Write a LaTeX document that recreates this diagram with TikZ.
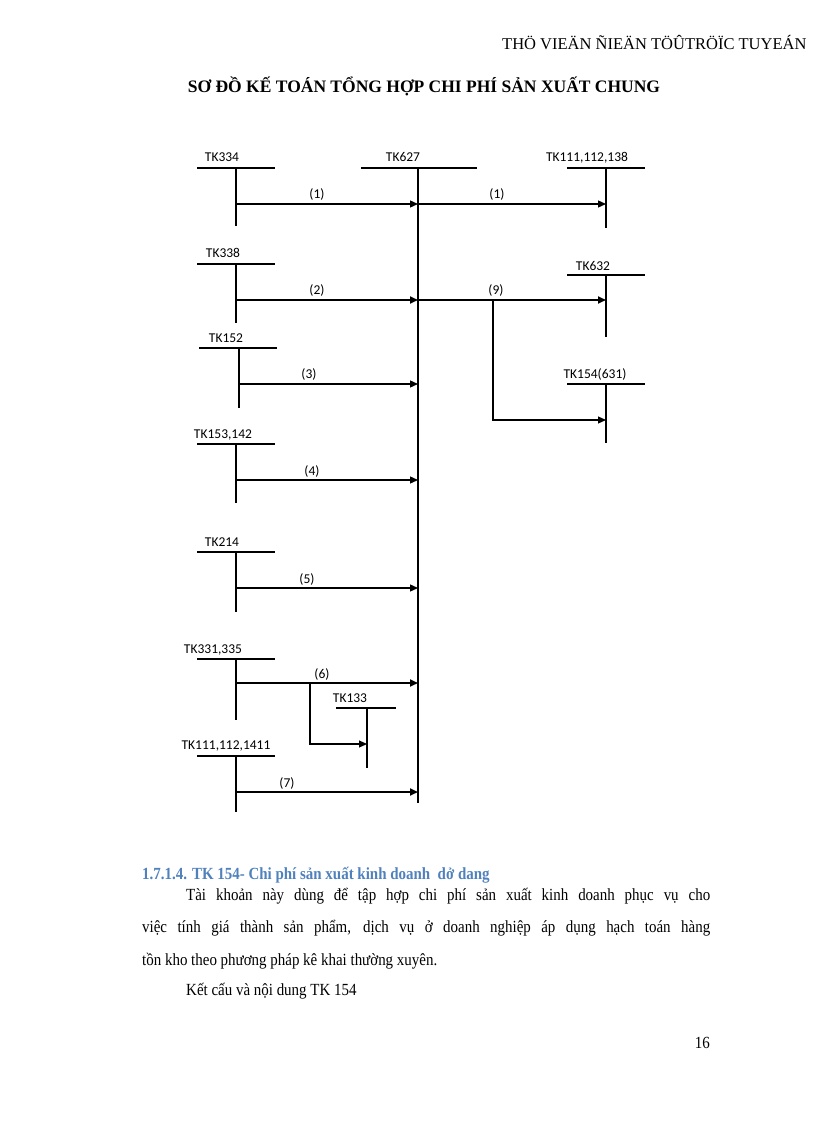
\documentclass[tikz,border=0pt]{standalone}
\usepackage{fontspec}
\setmainfont{Liberation Serif}
\newfontfamily\diagfont{Carlito}
\newfontfamily\bodyfont[FakeStretch=0.88]{Liberation Serif}
\usetikzlibrary{arrows.meta}
\definecolor{headblue}{RGB}{79,129,189}
% \tacct{name}{xl}{xr}{xv}{ytop}{ybot}{label}{lx}{lbaseline}
\newcommand\tacct[9]{%
  \draw[tline] (#2,#5) -- (#3,#5);
  \draw[tline] (#4,#5) coordinate (#1-top) -- (#4,#6) coordinate (#1-bot);
  \node[lbl] (#1) at (#8,#9) {#7};
}
\begin{document}
\begin{tikzpicture}[x=1pt,y=-1pt,
  tline/.style={line width=1.1pt},
  flow/.style={line width=1.3pt,-{Triangle[length=8pt,width=7pt]}},
  thick flow/.style={line width=1.9pt,-{Triangle[length=8pt,width=7pt]}},
  branch/.style={line width=1.1pt},
  lbl/.style={font=\diagfont\fontsize{13.5}{15}\selectfont, inner sep=0pt, anchor=base},
  body/.style={font=\bodyfont\fontsize{17}{20}\selectfont, inner sep=0pt, anchor=base west}]
\useasboundingbox (0,0) rectangle (816,1123);

% header and title
\node[inner sep=0pt, anchor=base west, font=\fontsize{16.5}{20}\selectfont] (hdr) at (502,50) {THÖ VIEÄN ÑIEÄN TÖÛTRÖÏC TUYEÁN};
\node[inner sep=0pt, anchor=base, font=\bfseries\fontsize{17.5}{20}\selectfont] (title) at (424,93) {SƠ ĐỒ KẾ TOÁN TỔNG HỢP CHI PHÍ SẢN XUẤT CHUNG};

% T-accounts
\tacct{a334}{197}{275}{236}{168}{226}{TK334}{222}{162}
\tacct{a627}{361}{477}{418}{168}{803}{TK627}{403}{162}
\tacct{a111}{567}{645}{606}{168}{228}{TK111,112,138}{587}{162}
\tacct{a338}{197}{275}{236}{264}{323}{TK338}{223}{257}
\tacct{a632}{567}{645}{606}{275}{337}{TK632}{593}{270}
\tacct{a152}{199}{277}{239}{348}{408}{TK152}{226}{342}
\tacct{a154}{567}{645}{606}{384}{443}{TK154(631)}{595}{378}
\tacct{a153}{197}{275}{236}{444}{503}{TK153,142}{223}{438}
\tacct{a214}{197}{275}{236}{552}{612}{TK214}{222}{546}
\tacct{a331}{197}{275}{236}{659}{720}{TK331,335}{213}{653}
\tacct{a133}{336}{396}{367}{708}{768}{TK133}{350}{702}
\tacct{a1411}{197}{275}{236}{756}{812}{TK111,112,1411}{226}{749}

% flow levels
\coordinate (y1) at (0,204);
\coordinate (y2) at (0,300);
\coordinate (y9b) at (0,420);
\coordinate (y3) at (0,384);
\coordinate (y4) at (0,480);
\coordinate (y5) at (0,588);
\coordinate (y6) at (0,683);
\coordinate (y6b) at (0,744);
\coordinate (y7) at (0,792);
\coordinate (b9) at (493,300);
\coordinate (b6) at (310,683);

% connectors
\draw[flow] (a334-top |- y1) -- (a627-top |- y1);
\draw[flow] (a627-top |- y1) -- (a111-top |- y1);
\draw[thick flow] (a338-top |- y2) -- (a627-top |- y2);
\draw[thick flow] (a627-top |- y2) -- (a632-top |- y2);
\draw[branch,-{Triangle[length=8pt,width=7pt]}] (b9) -- (b9 |- y9b) -- (a154-top |- y9b);
\draw[flow] (a152-top |- y3) -- (a627-top |- y3);
\draw[flow] (a153-top |- y4) -- (a627-top |- y4);
\draw[flow] (a214-top |- y5) -- (a627-top |- y5);
\draw[thick flow] (a331-top |- y6) -- (a627-top |- y6);
\draw[branch,-{Triangle[length=8pt,width=7pt]}] (b6) -- (b6 |- y6b) -- (a133-top |- y6b);
\draw[thick flow] (a1411-top |- y7) -- (a627-top |- y7);

% flow labels
\node[lbl] (l1a) at (317,199) {(1)};
\node[lbl] (l1b) at (497,199) {(1)};
\node[lbl] (l2) at (317,294) {(2)};
\node[lbl] (l9) at (496,294) {(9)};
\node[lbl] (l3) at (309,378) {(3)};
\node[lbl] (l4) at (312,475) {(4)};
\node[lbl] (l5) at (307,583) {(5)};
\node[lbl] (l6) at (322,678) {(6)};
\node[lbl] (l7) at (287,787) {(7)};

% text below
\node[body, font=\bodyfont\bfseries\fontsize{17}{20}\selectfont, text=headblue] (h) at (142,879) {1.7.1.4. TK 154- Chi phí sản xuất kinh doanh\ \ dở dang};
\node[body] (p1) at (186,900) {\makebox[524pt][s]{Tài khoản này dùng để tập hợp chi phí sản xuất kinh doanh phục vụ cho}};
\node[body] (p2) at (142,932) {\makebox[568pt][s]{việc tính giá thành sản phẩm, dịch vụ ở doanh nghiệp áp dụng hạch toán hàng}};
\node[body] (p3) at (142,965) {tồn kho theo phương pháp kê khai thường xuyên.};
\node[body] (p4) at (186,995) {Kết cấu và nội dung TK 154};
\node[body, anchor=base east] (pg) at (710,1048) {16};
\end{tikzpicture}
\end{document}
